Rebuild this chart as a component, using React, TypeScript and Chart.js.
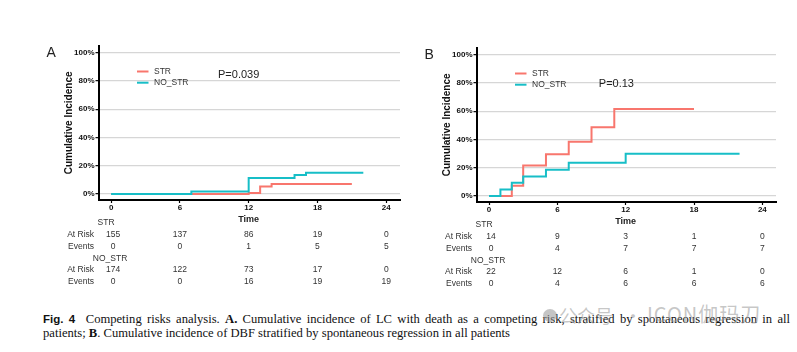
import React, { useEffect, useRef } from "react";
import { Chart, registerables } from "chart.js";

Chart.register(...registerables);

const SANS = "'Liberation Sans', Arial, Helvetica, sans-serif";
const SERIF = "'Liberation Serif', 'Times New Roman', Times, serif";
const RED = "#F8766D";
const TEAL = "#17BEC7";

// ---- shared axes ----
const timeTicks = [0, 6, 12, 18, 24];
const pctTicks = [0, 20, 40, 60, 80, 100];
const groupNames = ["STR", "NO_STR"];
const rowNames = ["At Risk", "Events"];

// ---- Panel A: cumulative incidence of LC ----
const aStrTime = [0, 12, 13, 14, 21];
const aStrCI = [0, 0.8, 5.4, 7.2, 7.2];
const aNoTime = [0, 7, 12, 16, 17, 22];
const aNoCI = [0, 1.9, 11.3, 13.4, 15.1, 15.1];
const aStrAtRisk = [155, 137, 86, 19, 0];
const aStrEvents = [0, 0, 1, 5, 5];
const aNoAtRisk = [174, 122, 73, 17, 0];
const aNoEvents = [0, 0, 16, 19, 19];
const aPValue = "P=0.039";

// ---- Panel B: cumulative incidence of DBF ----
const bStrTime = [0, 2, 3, 5, 7, 9, 11, 18];
const bStrCI = [0, 7.3, 21.6, 29.6, 38.4, 48.7, 61.6, 61.6];
const bNoTime = [0, 1, 2, 3, 5, 7, 12, 22];
const bNoCI = [0, 4.7, 9.4, 13.9, 18.6, 23.5, 29.9, 29.9];
const bStrAtRisk = [14, 9, 3, 1, 0];
const bStrEvents = [0, 4, 7, 7, 7];
const bNoAtRisk = [22, 12, 6, 1, 0];
const bNoEvents = [0, 4, 6, 6, 6];
const bPValue = "P=0.13";

const toPts = (t: number[], v: number[]) => t.map((x, i) => ({ x, y: v[i] }));

const extrasPlugin = {
  id: "panelExtras",
  afterDraw(chart: any, _args: any, opts: any) {
    const { ctx, chartArea } = chart;
    const xs = chart.scales.x;
    const { left, top, bottom } = chartArea;
    ctx.save();
    ctx.textBaseline = "middle";
    // panel letter
    ctx.fillStyle = "#222";
    ctx.textAlign = "left";
    ctx.font = `14px ${SANS}`;
    ctx.fillText(opts.letter, left - 52, top + 7);
    // legend
    chart.data.datasets.forEach((ds: any, i: number) => {
      const y = top + 25.7 + i * 11.2;
      ctx.strokeStyle = ds.borderColor;
      ctx.lineWidth = 2;
      ctx.beginPath();
      ctx.moveTo(left + 38.5, y);
      ctx.lineTo(left + 50, y);
      ctx.stroke();
      ctx.fillStyle = "#333";
      ctx.font = `8.5px ${SANS}`;
      ctx.fillText(ds.label, left + 55.5, y);
    });
    // p value
    ctx.fillStyle = "#222";
    ctx.font = `11px ${SANS}`;
    ctx.fillText(opts.pText, left + opts.pdx, top + opts.pdy);
    // Time label
    ctx.textAlign = "center";
    ctx.font = `bold 9px ${SANS}`;
    ctx.fillStyle = "#222";
    ctx.fillText("Time", xs.getPixelForValue(12), bottom + 19.7);
    // risk table
    const x0 = xs.getPixelForValue(timeTicks[0]);
    ctx.font = `8.5px ${SANS}`;
    ctx.fillStyle = "#333";
    opts.table.forEach((g: any, gi: number) => {
      const base = bottom + 23 + gi * 35.2;
      ctx.textAlign = "center";
      ctx.fillText(g.name, x0 - (gi === 0 ? 5 : 1), base);
      g.rows.forEach((row: number[], ri: number) => {
        const y = base + 11.7 + ri * 11.5;
        ctx.textAlign = "right";
        ctx.fillText(rowNames[ri], x0 - 17, y);
        ctx.textAlign = "center";
        row.forEach((v, k) => {
          ctx.fillText(String(v), xs.getPixelForValue(timeTicks[k]) + (k === 0 ? 2 : 0), y);
        });
      });
    });
    ctx.restore();
  },
};

type PanelProps = {
  letter: string;
  strPts: { x: number; y: number }[];
  noPts: { x: number; y: number }[];
  table: { name: string; rows: number[][] }[];
  pText: string;
  pdx: number;
  pdy: number;
  left: number;
  top: number;
  padRight: number;
};

function Panel(p: PanelProps) {
  const ref = useRef<HTMLCanvasElement>(null);
  useEffect(() => {
    const chart = new Chart(ref.current as HTMLCanvasElement, {
      type: "line",
      data: {
        datasets: [
          {
            label: groupNames[0],
            data: p.strPts,
            borderColor: RED,
            backgroundColor: RED,
            borderWidth: 2,
            stepped: true,
            pointRadius: 0,
            fill: false,
            order: 2,
          },
          {
            label: groupNames[1],
            data: p.noPts,
            borderColor: TEAL,
            backgroundColor: TEAL,
            borderWidth: 2,
            stepped: true,
            pointRadius: 0,
            fill: false,
            order: 1,
          },
        ],
      },
      options: {
        animation: false,
        responsive: false,
        events: [],
        layout: { padding: { left: 29, top: 5, right: p.padRight, bottom: 82 } },
        plugins: {
          legend: { display: false },
          tooltip: { enabled: false },
          panelExtras: {
            letter: p.letter,
            pText: p.pText,
            pdx: p.pdx,
            pdy: p.pdy,
            table: p.table,
          },
        } as any,
        scales: {
          x: {
            type: "linear",
            min: -1.1,
            max: 25.2,
            afterBuildTicks: (s: any) => {
              s.ticks = timeTicks.map((v) => ({ value: v }));
            },
            afterFit: (s: any) => {
              s.height = 14;
            },
            grid: {
              drawOnChartArea: false,
              drawTicks: true,
              tickLength: 3,
              tickColor: "#000",
              tickWidth: 1.2,
            },
            border: { color: "#000", width: 2 },
            ticks: {
              font: { family: SANS, size: 8, weight: "bold" },
              color: "#111",
              padding: 0,
              maxRotation: 0,
              autoSkip: false,
            },
          },
          y: {
            type: "linear",
            min: -4.2,
            max: 104.9,
            afterBuildTicks: (s: any) => {
              s.ticks = pctTicks.map((v) => ({ value: v }));
            },
            afterFit: (s: any) => {
              s.width = 39.5;
            },
            grid: {
              color: "#d6d6d6",
              lineWidth: 1.3,
              drawTicks: true,
              tickLength: 3,
              tickColor: "#000",
              tickWidth: 1.2,
            },
            border: { color: "#000", width: 2 },
            ticks: {
              callback: (v: any) => v + "%",
              font: { family: SANS, size: 8, weight: "bold" },
              color: "#111",
              padding: 1,
              autoSkip: false,
            },
            title: {
              display: true,
              text: "Cumulative Incidence",
              font: { family: SANS, size: 10, weight: "bold" },
              color: "#111",
              padding: { top: 4, bottom: 0 },
            },
          },
        },
      },
      plugins: [extrasPlugin],
    } as any);
    return () => chart.destroy();
  }, []);
  return (
    <canvas
      ref={ref}
      width={375}
      height={256}
      style={{ position: "absolute", left: p.left, top: p.top, width: 375, height: 256 }}
    />
  );
}

export default function App() {
  const wm = "rgba(150,150,150,0.55)";
  return (
    <div
      style={{
        position: "absolute",
        left: 0,
        top: 0,
        width: 797,
        height: 352,
        background: "#fff",
        overflow: "hidden",
      }}
    >
      <Panel
        letter="A"
        strPts={toPts(aStrTime, aStrCI)}
        noPts={toPts(aNoTime, aNoCI)}
        table={[
          { name: groupNames[0], rows: [aStrAtRisk, aStrEvents] },
          { name: groupNames[1], rows: [aNoAtRisk, aNoEvents] },
        ]}
        pText={aPValue}
        pdx={119.5}
        pdy={29}
        left={30}
        top={40}
        padRight={5}
      />
      <Panel
        letter="B"
        strPts={toPts(bStrTime, bStrCI)}
        noPts={toPts(bNoTime, bNoCI)}
        table={[
          { name: groupNames[0], rows: [bStrAtRisk, bStrEvents] },
          { name: groupNames[1], rows: [bNoAtRisk, bNoEvents] },
        ]}
        pText={bPValue}
        pdx={122.3}
        pdy={35.7}
        left={408}
        top={42}
        padRight={7}
      />
      <div
        style={{
          position: "absolute",
          left: 43,
          top: 312,
          width: 747,
          fontFamily: SERIF,
          fontSize: 12.6,
          lineHeight: "14px",
          color: "#111",
        }}
      >
        <div style={{ textAlign: "justify", textAlignLast: "justify" } as any}>
          <span style={{ fontFamily: SANS, fontWeight: "bold", fontSize: 11.5 }}>Fig. 4</span>
          {"\u00a0\u00a0"}Competing risks analysis. <b>A.</b> Cumulative incidence of LC with death as a competing risk, stratified by spontaneous regression in all
        </div>
        <div>
          patients; <b>B</b>. Cumulative incidence of DBF stratified by spontaneous regression in all patients
        </div>
      </div>
      <div
        style={{
          position: "absolute",
          left: 543,
          top: 309,
          width: 14,
          height: 13,
          borderRadius: "50%",
          background: wm,
        }}
      />
      <span
        style={{
          position: "absolute",
          left: 559,
          top: 302,
          fontFamily: "'Noto Sans CJK SC', sans-serif",
          fontSize: 18,
          lineHeight: "26px",
          color: wm,
          whiteSpace: "nowrap",
        }}
      >
        公众号
      </span>
      <span
        style={{
          position: "absolute",
          left: 624,
          top: 302,
          fontFamily: "'Noto Sans CJK SC', sans-serif",
          fontSize: 18,
          lineHeight: "26px",
          color: wm,
        }}
      >
        ·
      </span>
      <span
        style={{
          position: "absolute",
          left: 647,
          top: 301,
          fontFamily: "'Noto Sans CJK SC', sans-serif",
          fontSize: 20,
          lineHeight: "26px",
          color: wm,
          whiteSpace: "nowrap",
          letterSpacing: 1,
        }}
      >
        ICON伽玛刀
      </span>
    </div>
  );
}
